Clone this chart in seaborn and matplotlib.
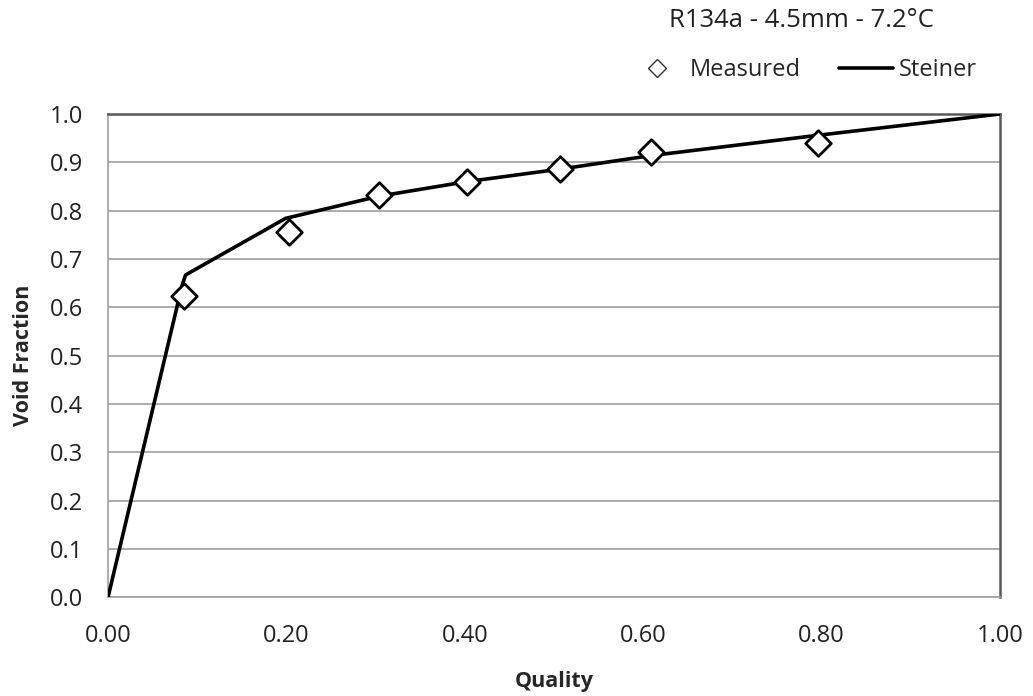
import matplotlib
matplotlib.use("Agg")
import matplotlib.pyplot as plt
import seaborn as sns
import pandas as pd
from matplotlib.lines import Line2D

# Data
measured_quality = [0.0855, 0.203, 0.304, 0.402, 0.507, 0.609, 0.796]
measured_void = [0.624, 0.756, 0.832, 0.860, 0.886, 0.921, 0.939]
steiner_quality = [0.0, 0.083, 0.087, 0.199, 0.304, 0.402, 0.507, 0.609, 0.796, 1.0]
steiner_void = [0.0, 0.645, 0.667, 0.784, 0.830, 0.860, 0.886, 0.914, 0.956, 1.0]
x_ticks = [0.0, 0.2, 0.4, 0.6, 0.8, 1.0]
x_tick_labels = ["0.00", "0.20", "0.40", "0.60", "0.80", "1.00"]
y_ticks = [0.0, 0.1, 0.2, 0.3, 0.4, 0.5, 0.6, 0.7, 0.8, 0.9, 1.0]
y_tick_labels = ["0.0", "0.1", "0.2", "0.3", "0.4", "0.5", "0.6", "0.7", "0.8", "0.9", "1.0"]

sns.set_style("white")
plt.rcParams['font.family'] = ['Open Sans', 'DejaVu Sans']

fig = plt.figure(figsize=(10.33, 6.96), dpi=100)
ax = fig.add_axes([108/1033, 1 - 597.3/696, (1000-108)/1033, (597.3-114)/696])

df_line = pd.DataFrame({"Quality": steiner_quality, "Void": steiner_void})
df_meas = pd.DataFrame({"Quality": measured_quality, "Void": measured_void})

sns.lineplot(data=df_line, x="Quality", y="Void", ax=ax, color="black",
             linewidth=2.6, sort=False, zorder=3)
sns.scatterplot(data=df_meas, x="Quality", y="Void", ax=ax, marker="D",
                s=170, facecolor="white", edgecolor="black", linewidth=2.0, zorder=4)

ax.set_xlim(0, 1.0)
ax.set_ylim(0, 1.0)
ax.set_xticks(x_ticks)
ax.set_xticklabels(x_tick_labels)
ax.set_yticks(y_ticks)
ax.set_yticklabels(y_tick_labels)
ax.yaxis.grid(True, color="#a6a6a6", linewidth=1.3)
ax.xaxis.grid(False)
ax.set_axisbelow(True)

for s in ["left", "bottom"]:
    ax.spines[s].set_color("#a0a0a0")
    ax.spines[s].set_linewidth(1.2)
for s in ["top", "right"]:
    ax.spines[s].set_visible(True)
    ax.spines[s].set_color("#595959")
    ax.spines[s].set_linewidth(1.8)

ax.tick_params(axis="both", which="both", direction="out", width=1.1,
               color="#a0a0a0", labelsize=17, labelcolor="#222222")
ax.tick_params(axis="x", length=6.5, pad=13)
ax.tick_params(axis="y", length=7, pad=11)

ax.set_xlabel("Quality", fontsize=15.5, fontweight="bold", labelpad=16)
ax.set_ylabel("Void Fraction", fontsize=15.5, fontweight="bold", labelpad=11)

fig.text(0.776, 0.970, "R134a - 4.5mm - 7.2°C", fontsize=18.5, ha="center", va="center",
         color="#222222")

handles = [
    Line2D([], [], linestyle="none", marker="D", markersize=9, markerfacecolor="white",
           markeredgecolor="#333333", markeredgewidth=1.0, label="Measured"),
    Line2D([], [], color="black", linewidth=2.6, label="Steiner"),
]
fig.legend(handles=handles, loc="center", bbox_to_anchor=(0.778, 0.899), ncol=2,
           frameon=False, fontsize=17, handlelength=2.3, handletextpad=0.25,
           columnspacing=1.6)

fig.savefig("out.png", dpi=100)
